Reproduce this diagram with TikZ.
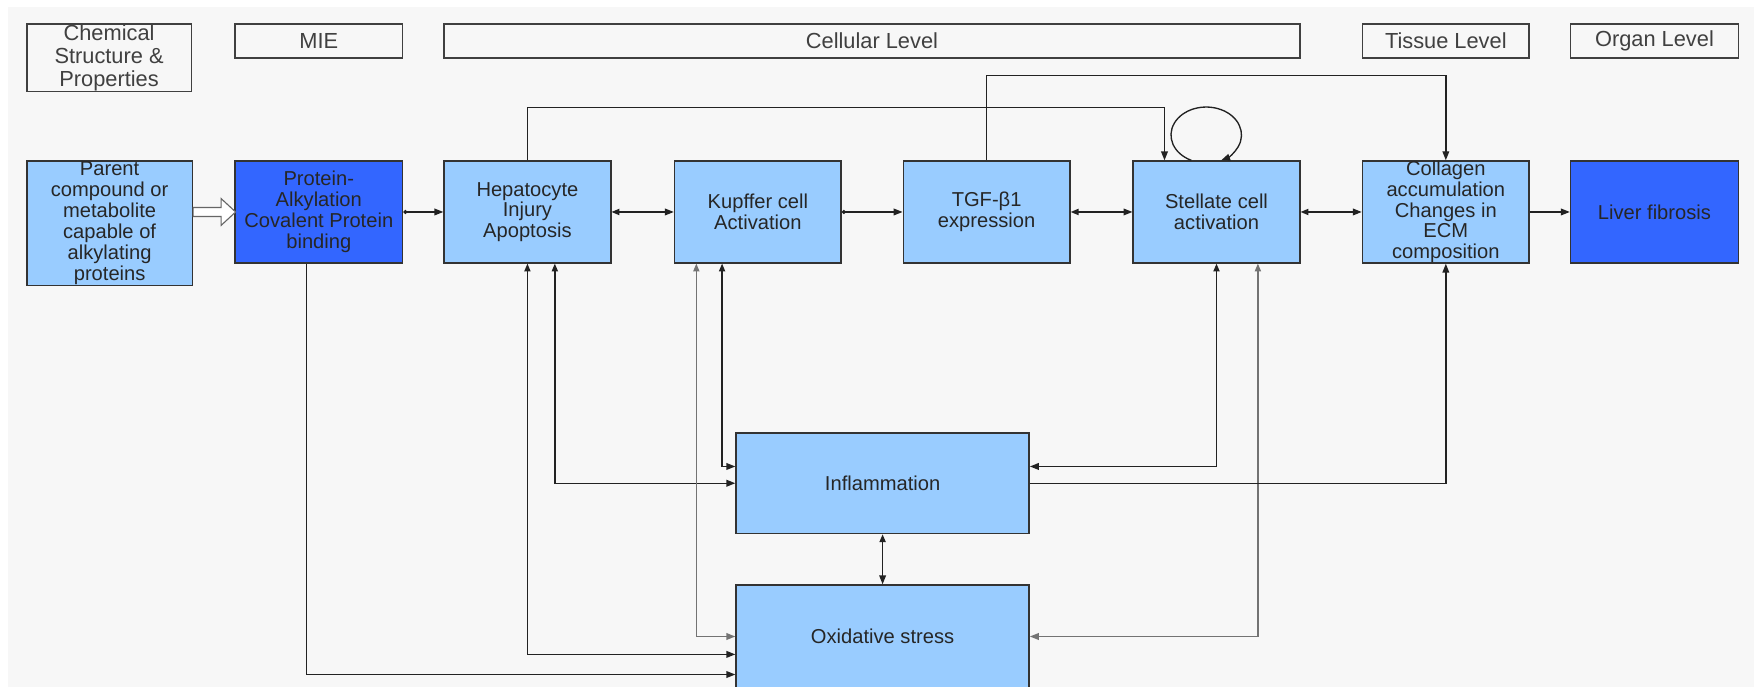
\documentclass[tikz,border=0pt]{standalone}
\usepackage{fontspec}
\setmainfont{Liberation Sans}
\usetikzlibrary{arrows.meta}
\definecolor{lightblue}{HTML}{99CCFF}
\definecolor{darkblue}{HTML}{3366FF}
\definecolor{bggray}{HTML}{F7F7F7}
\definecolor{linegray}{HTML}{222222}
\newcommand\bxfont{\fontsize{18}{18.6}\selectfont}
\newcommand\hdfont{\fontsize{19.5}{20.5}\selectfont}

\begin{document}
\begin{tikzpicture}[x=1pt, y=1pt,
    levelbox/.style={draw=black!75, line width=1.3pt, minimum height=30.5pt, inner sep=0pt, align=center, font=\hdfont, text=black!75},
    event/.style={draw=black!80, fill=lightblue, line width=1.3pt, minimum width=149pt, minimum height=91pt, inner sep=0pt, align=center, font=\bxfont, text=black!85},
    keyevent/.style={event, fill=darkblue},
    conn/.style={draw=linegray, line width=1.2pt},
    arr/.style={conn, -{Triangle[length=8pt,width=6pt]}},
    arrdot/.style={conn, {Circle[length=3.5pt]}-{Triangle[length=8pt,width=6pt]}},
    arrboth/.style={conn, {Triangle[length=7pt,width=5.5pt]}-{Triangle[length=8pt,width=6pt]}}]

        % Define the canvas
        \def\rowy{424.5}
        \def\levely{577.25}
        \fill[bggray] (7,0) rectangle (1568,608);
        \useasboundingbox (0,0) rectangle (1568,614);

        % Level headers
        \node[levelbox, minimum width=147pt, minimum height=60.5pt] (chem) at (97.5,562.25) {Chemical\\Structure \&\\Properties};
        \node[levelbox, minimum width=150pt] (mie) at (285,\levely) {MIE};
        \node[levelbox, minimum width=765pt] (cellular) at (779.5,\levely) {Cellular Level};
        \node[levelbox, minimum width=149pt] (tissue) at (1292.5,\levely) {Tissue Level};
        \node[levelbox, minimum width=150pt] (organ) at (1479,\levely) {Organ Level};

        % Key events
        \node[event, minimum width=148pt, minimum height=111pt] (parent) at (98,414.5) {Parent\\compound or\\metabolite\\capable of\\alkylating\\proteins};
        \node[keyevent, minimum width=150pt] (protein) at (285,\rowy) {Protein-\\Alkylation\\Covalent Protein\\binding};
        \node[event] (hep) at (471.5,\rowy) {Hepatocyte\\Injury\\Apoptosis};
        \node[event] (kupffer) at (677.5,\rowy) {Kupffer cell\\Activation};
        \node[event] (tgf) at (882,\rowy) {TGF-β1\\expression};
        \node[event] (stellate) at (1087.5,\rowy) {Stellate cell\\activation};
        \node[event] (collagen) at (1292.5,\rowy) {Collagen\\accumulation\\Changes in\\ECM\\composition};
        \node[keyevent, minimum width=150pt] (liver) at (1479,\rowy) {Liver fibrosis};
        \node[event, minimum width=262pt, minimum height=90pt] (inflam) at (789,182) {Inflammation};
        \node[event, minimum width=262pt, minimum height=92pt] (oxstress) at (789,45) {Oxidative stress};

        % Hollow arrow into the MIE
        \coordinate (hollowtail) at (parent.east |- protein.west);
        \draw[draw=black!60, fill=white, line width=1pt, line join=miter]
            (hollowtail) ++(0,4) -- ++(25,0) -- ++(0,8) -- ++(13,-12) -- ++(-13,-12) -- ++(0,8) -- ++(-25,0) -- cycle;

        % Main row
        \draw[arrdot] (protein.east) -- (hep.west);
        \draw[arrboth] (hep.east) -- (kupffer.west);
        \draw[arrdot] (kupffer.east) -- (tgf.west);
        \draw[arrboth] (tgf.east) -- (stellate.west);
        \draw[arrboth] (stellate.east) -- (collagen.west);
        \draw[arr] (collagen.east) -- (liver.west);

        % Links over the top
        \draw[arr] (hep.north) -- ++(0,47) -| ([xshift=-46.5pt]stellate.north);
        \draw[arr] (tgf.north) -- ++(0,76) -| (collagen.north);
        \draw[arr] ([xshift=-22.5pt]stellate.north) arc[start angle=245, end angle=-65, x radius=31.5pt, y radius=25pt];

        % Links to inflammation and oxidative stress
        \draw[arr] ([xshift=-11pt]protein.south) |- ([yshift=-34pt]oxstress.west);
        \draw[arrboth] (hep.south) |- ([yshift=-16pt]oxstress.west);
        \draw[arrboth] ([xshift=24.5pt]hep.south) |- (inflam.west);
        \draw[arrboth, draw=black!55] ([xshift=-55pt]kupffer.south) |- (oxstress.west);
        \draw[arrboth] ([xshift=-32pt]kupffer.south) |- ([yshift=15pt]inflam.west);
        \draw[arrboth] (stellate.south) |- ([yshift=15pt]inflam.east);
        \draw[arrboth, draw=black!55] ([xshift=37pt]stellate.south) |- (oxstress.east);
        \draw[arr] (inflam.east) -| (collagen.south);
        \draw[arrboth] (inflam.south) -- (oxstress.north);
    \end{tikzpicture}
\end{document}
